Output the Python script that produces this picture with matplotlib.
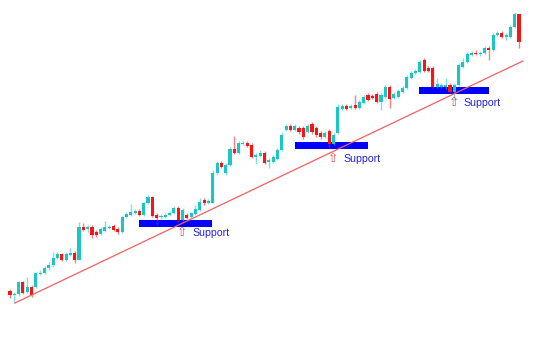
import numpy as np
import matplotlib
matplotlib.use("Agg")
import matplotlib.pyplot as plt

# candle data (price units, arbitrary scale)
opens = [46, 42, 43, 55, 45, 50, 50, 63, 64, 69, 72, 79, 83, 77, 82, 84, 77, 110, 108, 110,
         105, 103, 106, 109, 111, 108, 105, 120, 122, 124, 126, 122, 134, 140, 122, 120, 120, 122, 124, 129,
         117, 122, 120, 123, 127, 137, 134, 134, 164, 174, 164, 172, 188, 184, 193, 194, 192, 180, 181, 184,
         175, 175, 178, 187, 207, 211, 207, 209, 209, 205, 213, 209, 204, 200, 206, 193, 204, 228, 231, 229,
         232, 229, 234, 242, 241, 243, 235, 240, 250, 239, 240, 245, 249, 259, 264, 265, 277, 269, 269, 250,
         250, 250, 252, 245, 252, 270, 275, 282, 284, 283, 284, 289, 287, 302, 304, 300, 300, 310, 323]
closes = [42, 43, 55, 44, 50, 42, 64, 64, 69, 72, 79, 83, 77, 83, 84, 77, 110, 107, 110, 102,
          102, 108, 110, 110, 107, 105, 120, 123, 125, 126, 122, 134, 140, 121, 119, 121, 122, 124, 129, 117,
          127, 119, 124, 128, 135, 134, 136, 164, 174, 170, 172, 188, 184, 194, 194, 191, 180, 182, 184, 174,
          177, 180, 187, 202, 211, 207, 211, 205, 200, 211, 205, 202, 200, 204, 193, 202, 230, 231, 228, 231,
          229, 235, 240, 237, 239, 235, 242, 250, 238, 243, 246, 249, 260, 264, 266, 275, 266, 266, 250, 253,
          252, 252, 245, 252, 272, 275, 283, 284, 283, 284, 289, 287, 302, 304, 300, 302, 310, 323, 295]
highs = [48, 45, 56, 56, 60, 52, 65, 67, 71, 75, 85, 85, 84, 85, 89, 86, 115, 114, 112, 112,
         107, 110, 116, 112, 113, 110, 121, 125, 133, 128, 128, 135, 142, 141, 124, 123, 124, 126, 131, 131,
         129, 124, 125, 132, 139, 139, 138, 167, 176, 176, 174, 190, 201, 196, 196, 196, 194, 184, 187, 186,
         179, 182, 189, 205, 213, 213, 213, 211, 211, 213, 215, 211, 206, 206, 208, 204, 233, 233, 233, 233,
         242, 237, 242, 244, 243, 245, 244, 252, 252, 245, 248, 251, 262, 266, 268, 277, 279, 271, 271, 259,
         254, 259, 254, 254, 274, 279, 285, 286, 287, 286, 291, 291, 304, 306, 306, 304, 312, 325, 323]
lows = [39, 34, 41, 43, 44, 40, 49, 62, 63, 67, 70, 78, 76, 76, 81, 74, 77, 106, 105, 99,
        100, 102, 105, 108, 106, 103, 104, 119, 121, 123, 121, 121, 133, 120, 112, 118, 119, 121, 123, 115,
        116, 118, 119, 122, 126, 132, 133, 134, 162, 169, 162, 171, 183, 183, 192, 190, 179, 173, 180, 173,
        169, 174, 177, 186, 206, 206, 206, 203, 198, 204, 203, 200, 198, 199, 189, 192, 203, 227, 227, 228,
        228, 228, 233, 236, 238, 234, 227, 239, 229, 238, 239, 244, 248, 258, 263, 264, 265, 265, 249, 249,
        249, 248, 244, 237, 251, 269, 274, 281, 282, 281, 283, 277, 286, 301, 299, 297, 299, 309, 289]

# support zones: first/last candle index covered, bottom and top price
support_start = [29.9, 66.1, 94.8]
support_end = [46.8, 83.0, 111.0]
support_low = [110, 188, 243]
support_high = [117, 195, 250]
# arrow marks under the touch points, and the labels next to them
arrow_x = [39.9, 74.9, 102.9]
label_y = [104, 178, 234]
support_label = "Support"

# trend line through the lows
trend_x = [1.16, 118.9]
trend_y = [34, 276]

up_col = "#1cc6c6"
down_col = "#fa1414"

fig = plt.figure(figsize=(5.55, 3.37), dpi=100)
ax = fig.add_axes([0, 0, 1, 1])
ax.axis("off")

idx = np.arange(len(opens))
o = np.array(opens)
c = np.array(closes)
cols = [up_col if cc >= oo else down_col for oo, cc in zip(o, c)]

# support bars
for s, e, lo, hi in zip(support_start, support_end, support_low, support_high):
    ax.fill_between([s, e], lo, hi, color="#0000ff", lw=0, zorder=1)

ax.plot(trend_x, trend_y, color="#f26060", lw=0.9, zorder=4)

# candles
ax.vlines(idx, lows, highs, colors=cols, lw=1.0, alpha=0.55, zorder=2)
body_h = np.maximum(np.abs(c - o), 1.0)
ax.bar(idx, body_h, bottom=np.minimum(o, c), width=0.72, color=cols,
       linewidth=0, zorder=3)

for ax_x, ly in zip(arrow_x, label_y):
    ax.text(ax_x, ly, "\u21e7", color="#e85050", fontsize=9,
            ha="center", va="center", family="DejaVu Sans", zorder=5)
    ax.text(ax_x + 2.3, ly, support_label, color="#2323d8", fontsize=7.6,
            ha="left", va="center", family="Liberation Sans", zorder=5)

ax.set_xlim(-2.318, 126.34)
ax.set_ylim(0, 337)

fig.savefig("out.png", dpi=100, facecolor="white")
